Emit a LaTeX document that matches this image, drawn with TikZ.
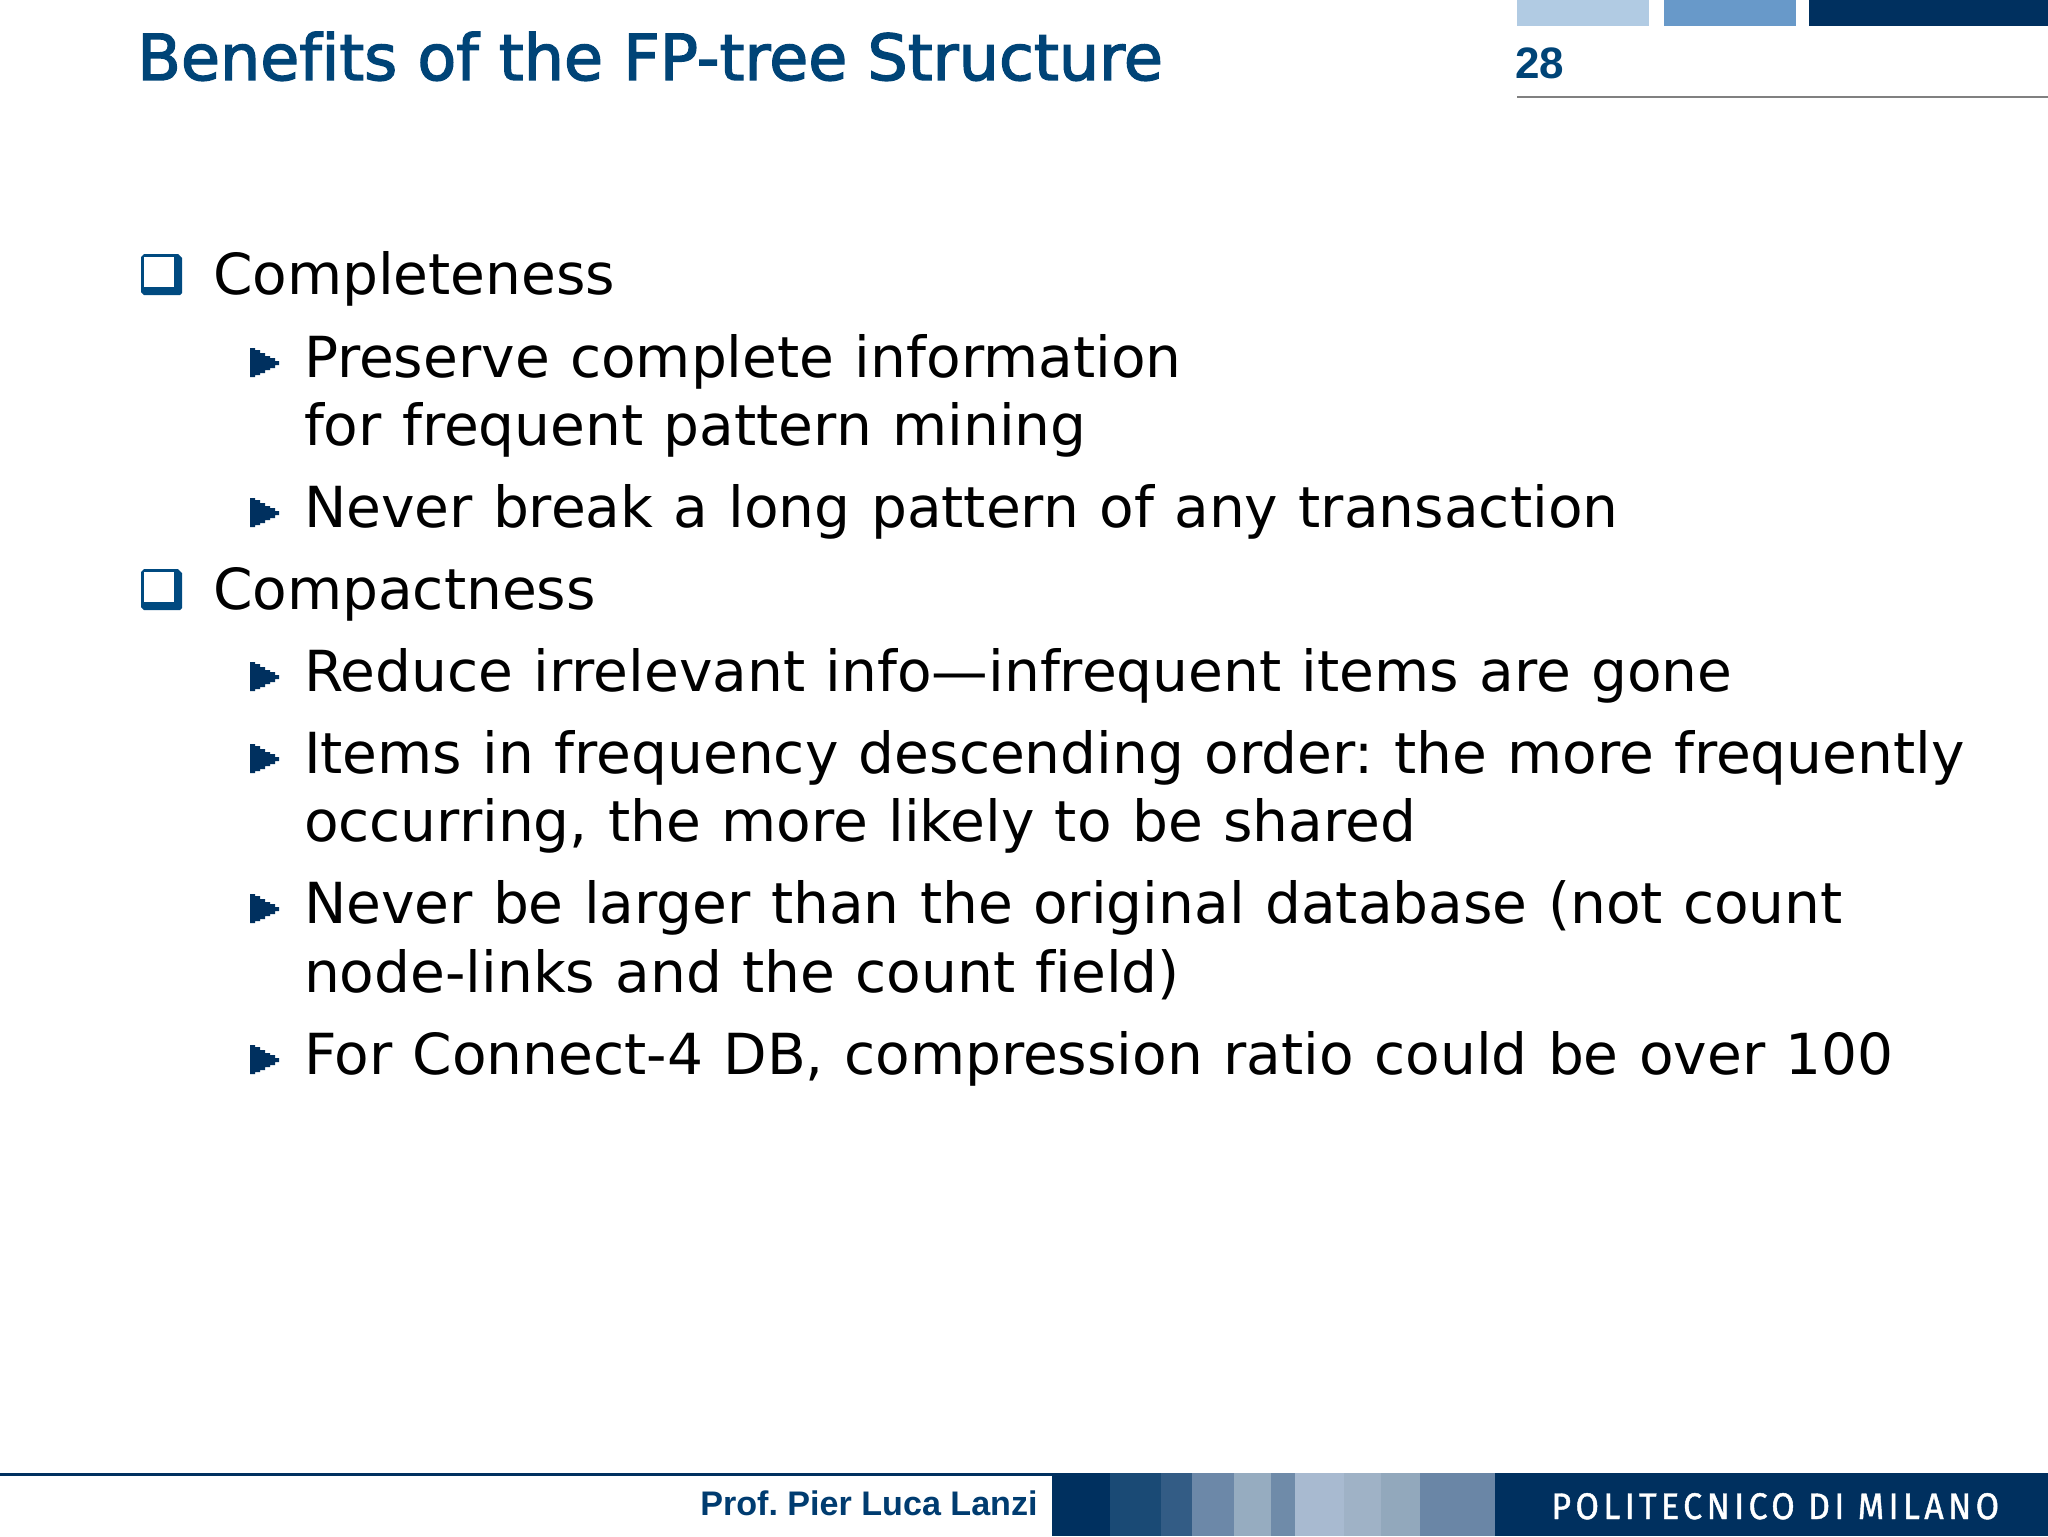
\documentclass[tikz,border=0pt]{standalone}
\usepackage{fontspec}
\setmainfont[Ligatures=CommonOff,WordSpace=1.13]{DejaVu Sans}
\newfontfamily\titlefont[Ligatures=CommonOff,FakeBold=2.2]{DejaVu Sans}
\newfontfamily\arialfont{Liberation Sans}
\newfontfamily\logofont[LetterSpace=12,FakeStretch=0.915,FakeBold=1.2]{Fira Sans}
\definecolor{titleblue}{HTML}{004477}
\definecolor{navy}{HTML}{00305F}
\definecolor{bulletblue}{HTML}{004A80}
\definecolor{darkblue}{HTML}{003C70}
\tikzset{
  body/.style={anchor=base west, inner sep=0pt, outer sep=0pt, text=black, font=\fontsize{28.3}{34}\selectfont},
  square/.pic={
    \fill[bulletblue] (0,-38) -- (3,-41) -- (37,-41) -- (41,-37) -- (41,-2) -- (39,0) -- (3,0) -- (0,-3) -- cycle;
    \fill[white] (3,-38) -- (33,-38) -- (33,-8) -- (3,-8) -- cycle;
  },
  tri/.pic={
    \fill[navy] (0,-30) -- (5,-30) -- (5,-28) -- (10,-28) -- (10,-25) -- (15,-25) -- (15,-22) -- (20,-22) -- (20,-20) -- (25,-20) -- (25,-17) -- (29,-17) -- (29,-13) -- (25,-13) -- (25,-10) -- (20,-10) -- (20,-8) -- (15,-8) -- (15,-5) -- (10,-5) -- (10,-3) -- (5,-3) -- (5,-1) -- (0,-1) -- cycle;
  }
}
\begin{document}
\frenchspacing
\begin{tikzpicture}[x=0.5pt,y=-0.5pt]
\useasboundingbox (0,0) rectangle (2048,1536);
\fill[white] (0,0) rectangle (2048,1536);
\fill[fill={rgb,255:red,177;green,203;blue,227}] (1517,0) rectangle (1649,26);
\fill[fill={rgb,255:red,104;green,153;blue,201}] (1664,0) rectangle (1796,26);
\fill[navy] (1809,0) rectangle (2048,26);
\draw[gray, line width=1pt] (1517,97) -- (2048,97);
\node[anchor=base west, inner sep=0pt, text=titleblue, font=\titlefont\fontsize{31.75}{36}\selectfont] (title) at (137,80) {Benefits of the FP-tree Structure};
\node[anchor=base west, inner sep=0pt, text=titleblue, font=\arialfont\bfseries\fontsize{22}{28}\selectfont] (page) at (1515,79) {28};
\pic at (141,295) {square};
\node[body] (item1) at (213,294) {Completeness};
\pic at (250,378) {tri};
\node[body] (item2) at (304,377) {Preserve complete information};
\node[body] (item3) at (304,445) {for frequent pattern mining};
\pic at (250,528) {tri};
\node[body] (item4) at (304,527) {Never break a long pattern of any transaction};
\pic at (141,610) {square};
\node[body] (item5) at (213,609) {Compactness};
\pic at (250,692) {tri};
\node[body] (item6) at (304,691) {Reduce irrelevant info—infrequent items are gone};
\pic at (250,774) {tri};
\node[body] (item7) at (304,773) {Items in frequency descending order: the more frequently};
\node[body] (item8) at (304,841) {occurring, the more likely to be shared};
\pic at (250,924) {tri};
\node[body] (item9) at (304,923) {Never be larger than the original database (not count};
\node[body] (item10) at (304,992) {node-links and the count field)};
\pic at (250,1075) {tri};
\node[body] (item11) at (304,1074) {For Connect-4 DB, compression ratio could be over 100};
\draw[navy, line width=1.25pt] (0,1474.5) -- (1052,1474.5);
\fill[navy] (1052,1473) rectangle (2048,1536);
\fill[fill={rgb,255:red,26;green,74;blue,117}] (1110,1473) rectangle (1161,1536);
\fill[fill={rgb,255:red,51;green,92;blue,133}] (1161,1473) rectangle (1192,1536);
\fill[fill={rgb,255:red,108;green,136;blue,168}] (1192,1473) rectangle (1234,1536);
\fill[fill={rgb,255:red,150;green,172;blue,192}] (1234,1473) rectangle (1271,1536);
\fill[fill={rgb,255:red,111;green,139;blue,169}] (1271,1473) rectangle (1295,1536);
\fill[fill={rgb,255:red,168;green,186;blue,208}] (1295,1473) rectangle (1344,1536);
\fill[fill={rgb,255:red,159;green,178;blue,198}] (1344,1473) rectangle (1381,1536);
\fill[fill={rgb,255:red,146;green,168;blue,188}] (1381,1473) rectangle (1420,1536);
\fill[fill={rgb,255:red,106;green,134;blue,166}] (1420,1473) rectangle (1495,1536);
\node[anchor=base east, inner sep=0pt, text=darkblue, font=\arialfont\bfseries\fontsize{17.05}{21}\selectfont] (prof) at (1038,1515) {Prof. Pier Luca Lanzi};
\node[anchor=base west, inner sep=0pt, text=white, font=\logofont\fontsize{18.5}{22}\selectfont] (logo) at (1551,1519) {POLITECNICO DI MILANO};
\end{tikzpicture}
\end{document}
